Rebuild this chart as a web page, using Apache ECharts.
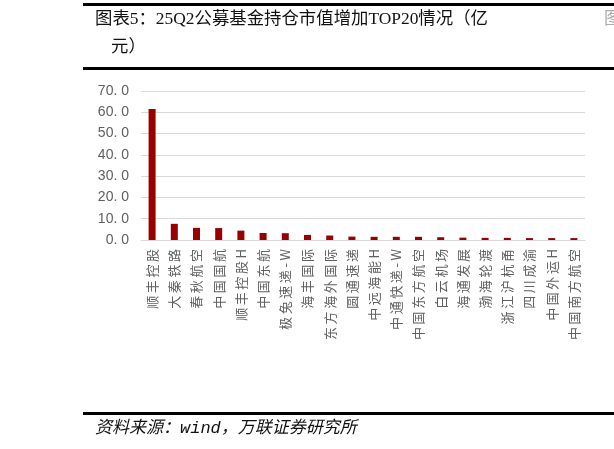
<!DOCTYPE html>
<html>
<head>
<meta charset="utf-8">
<script src="https://cdn.jsdelivr.net/npm/echarts@6/dist/echarts.min.js"></script>
<style>
html,body{margin:0;padding:0;background:#fff;}
#c{width:614px;height:449px;}
</style>
</head>
<body>
<div id="c"></div>
<script>
const categories = ["顺丰控股","大秦铁路","春秋航空","中国国航","顺丰控股H","中国东航","极兔速递-W","海丰国际","东方海外国际","圆通速递","中远海能H","中通快递-W","中国东方航空","白云机场","海通发展","渤海轮渡","浙江沪杭甬","四川成渝","中国外运H","中国南方航空"];
const values = [61.5,7.6,5.7,5.6,4.4,3.3,3.2,2.4,2.1,1.6,1.5,1.5,1.5,1.3,1.1,1.0,1.0,0.9,0.9,0.9];
const yTicks = {min:0, max:70, interval:10};
const titleLine1 = "图表5：25Q2公募基金持仓市值增加TOP20情况（亿";
const titleLine2 = "元）";
const sourceText = "资料来源：wind，万联证券研究所";

const chart = echarts.init(document.getElementById('c'));
const serifFont = "'Liberation Serif','Noto Sans CJK SC',serif";
chart.setOption({
  animation:false,
  grid:{left:141,right:29,top:91,bottom:209,containLabel:false},
  xAxis:{
    type:'category',
    data:categories,
    axisTick:{show:false},
    axisLine:{lineStyle:{color:'#d9d9d9',width:1}},
    axisLabel:{
      interval:0,rotate:90,margin:9,color:'#606060',fontSize:13,
      fontFamily:"'Noto Sans CJK SC',sans-serif",
      formatter:function(v){return Array.from(v).join('\u2009');}
    }
  },
  yAxis:{
    type:'value',min:yTicks.min,max:yTicks.max,interval:yTicks.interval,
    axisLine:{show:false},axisTick:{show:false},
    splitLine:{lineStyle:{color:'#d9d9d9',width:1}},
    axisLabel:{
      color:'#606060',fontSize:14,margin:12,
      fontFamily:"'Liberation Sans','Noto Sans CJK SC',sans-serif",
      formatter:function(v){return v.toFixed(1).replace('.', '. ');}
    }
  },
  series:[{type:'bar',data:values,barWidth:7,itemStyle:{color:'#990000'}}],
  graphic:[
    {type:'rect',shape:{x:83,y:3,width:531,height:3},style:{fill:'#000'},silent:true},
    {type:'rect',shape:{x:83,y:67,width:531,height:3},style:{fill:'#000'},silent:true},
    {type:'rect',shape:{x:83,y:412,width:531,height:3},style:{fill:'#000'},silent:true},
    {type:'text',left:95,top:11,style:{text:titleLine1,fontSize:17.4,fontFamily:serifFont,fill:'#111'}},
    {type:'text',left:111,top:39,style:{text:titleLine2,fontSize:17.4,fontFamily:serifFont,fill:'#111'}},
    {type:'text',left:604,top:11,style:{text:"图",fontSize:17,fontFamily:serifFont,fill:'#aaa'}},
    {type:'text',left:95,top:420,style:{text:sourceText,fontSize:17,fontStyle:'italic',fontFamily:"'Liberation Mono','Noto Sans CJK SC',monospace",fill:'#111'}}
  ]
});
</script>
</body>
</html>
